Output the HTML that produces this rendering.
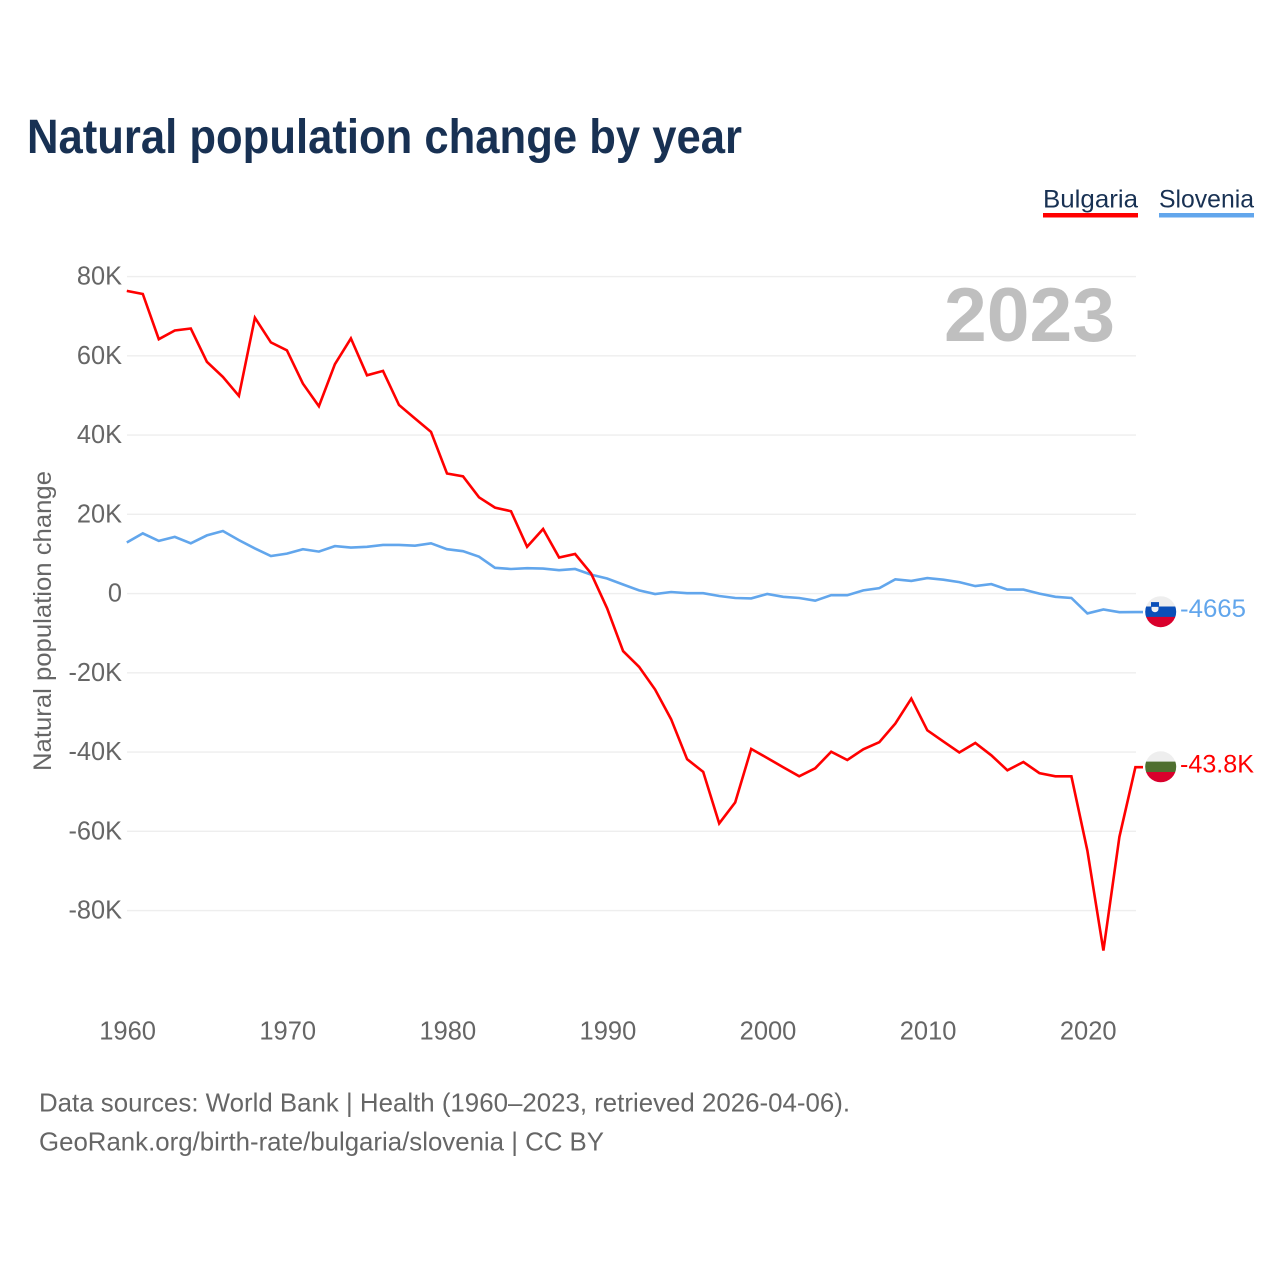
<!DOCTYPE html>
<html lang="en">
<head>
<meta charset="utf-8">
<title>Natural population change by year</title>
<style>
html,body{margin:0;padding:0;background:#fff;}
svg{display:block;font-family:"Liberation Sans",sans-serif;}
</style>
</head>
<body>
<svg id="chart" width="1280" height="1280" viewBox="0 0 1280 1280" xmlns="http://www.w3.org/2000/svg">
  <defs>
    <clipPath id="flag-clip"><circle cx="0" cy="0" r="15.5"/></clipPath>
  </defs>
  <text x="27" y="153" font-size="48" font-weight="700" fill="#183153" textLength="715" lengthAdjust="spacingAndGlyphs">Natural population change by year</text>

  <g>
    <text x="1043" y="207.5" font-size="25" fill="#183153" textLength="95" lengthAdjust="spacingAndGlyphs">Bulgaria</text>
    <rect x="1043" y="213" width="95" height="4.5" fill="#ff0000"/>
  </g>
  <g>
    <text x="1159" y="207.5" font-size="25" fill="#183153" textLength="95" lengthAdjust="spacingAndGlyphs">Slovenia</text>
    <rect x="1159" y="213" width="95" height="4.5" fill="#62a6ec"/>
  </g>

  <g id="grid"></g>
  <text x="944" y="341" font-size="76" font-weight="700" fill="#bfbfbf" textLength="171" lengthAdjust="spacingAndGlyphs">2023</text>
  <g id="y-ticks"></g>
  <g id="x-ticks"></g>
  <text transform="translate(51,621) rotate(-90)" text-anchor="middle" font-size="25" fill="#666666" textLength="300" lengthAdjust="spacingAndGlyphs">Natural population change</text>
  <g id="series"></g>
  <g id="end-markers"></g>

  <text x="39" y="1111.5" font-size="26" fill="#666666" textLength="811" lengthAdjust="spacingAndGlyphs">Data sources: World Bank | Health (1960–2023, retrieved 2026-04-06).</text>
  <text x="39" y="1150.5" font-size="26" fill="#666666" textLength="565" lengthAdjust="spacingAndGlyphs">GeoRank.org/birth-rate/bulgaria/slovenia | CC BY</text>
</svg>
<script>
var firstYear = 1960;
var yTickValues = [80, 60, 40, 20, 0, -20, -40, -60, -80];
var yTickLabels = ["80K", "60K", "40K", "20K", "0", "-20K", "-40K", "-60K", "-80K"];
var xTickYears = [1960, 1970, 1980, 1990, 2000, 2010, 2020];
var xTickLabels = ["1960", "1970", "1980", "1990", "2000", "2010", "2020"];
var bulgariaValues = [76.4, 75.6, 64.2, 66.4, 66.9, 58.5, 54.7, 49.9, 69.6, 63.4, 61.4, 53.0, 47.3, 57.9, 64.4, 55.1, 56.2, 47.6, 44.2, 40.8, 30.3, 29.6, 24.3, 21.7, 20.8, 11.8, 16.3, 9.1, 10.0, 5.1, -3.7, -14.5, -18.5, -24.2, -31.7, -41.8, -45.0, -58.0, -52.7, -39.2, -41.5, -43.8, -46.1, -44.1, -39.9, -42.0, -39.3, -37.5, -32.8, -26.5, -34.5, -37.3, -40.1, -37.7, -40.8, -44.6, -42.5, -45.3, -46.1, -46.1, -64.9, -90.1, -61.4, -43.8];
var sloveniaValues = [12.9, 15.2, 13.3, 14.3, 12.7, 14.7, 15.8, 13.5, 11.4, 9.5, 10.1, 11.2, 10.6, 12.0, 11.6, 11.8, 12.3, 12.3, 12.1, 12.7, 11.2, 10.7, 9.3, 6.5, 6.2, 6.4, 6.3, 5.9, 6.2, 4.8, 3.8, 2.3, 0.8, -0.1, 0.4, 0.1, 0.1, -0.6, -1.1, -1.2, -0.1, -0.8, -1.1, -1.8, -0.4, -0.4, 0.8, 1.4, 3.6, 3.2, 3.9, 3.5, 2.9, 1.9, 2.4, 1.0, 1.0, 0.0, -0.8, -1.1, -5.0, -4.0, -4.7, -4.665];
var bulgariaLabel = "-43.8K";
var sloveniaLabel = "-4665";

var NS = "http://www.w3.org/2000/svg";
var RED = "#ff0000";
var BLUE = "#62a6ec";
function xScale(year) { return 126.8 + (year - 1960) * 16.01; }
function yScale(v) { return 593.6 - v * 3.9625; }
function mk(tag, attrs, parent) {
  var el = document.createElementNS(NS, tag);
  for (var k in attrs) { el.setAttribute(k, attrs[k]); }
  parent.appendChild(el);
  return el;
}
function narrow(el, factor) {
  el.setAttribute("textLength", (el.getComputedTextLength() * factor).toFixed(1));
  el.setAttribute("lengthAdjust", "spacingAndGlyphs");
}

var grid = document.getElementById("grid");
var yTicks = document.getElementById("y-ticks");
yTickValues.forEach(function (v, i) {
  var line = mk("line", { x1: 127, x2: 1136, y1: yScale(v), y2: yScale(v), stroke: "#eeeeee", "stroke-width": 1.4 }, grid);
  
  
  var t = mk("text", { x: 122, y: yScale(v) + 8, "text-anchor": "end", "font-size": 26, fill: "#666666" }, yTicks);
  
  
  t.textContent = yTickLabels[i];
  narrow(t, 0.975);
});

var xTicks = document.getElementById("x-ticks");
xTickYears.forEach(function (yr, i) {
  var t = mk("text", { x: xScale(yr) + 0.8, y: 1039.5, "text-anchor": "middle", "font-size": 26, fill: "#666666" }, xTicks);
  
  
  t.textContent = xTickLabels[i];
  narrow(t, 0.98);
});

function linePoints(values) {
  var pts = values.map(function (v, i) {
    return xScale(firstYear + i).toFixed(1) + "," + yScale(v).toFixed(1);
  });
  var last = values[values.length - 1];
  pts.push("1143," + yScale(last).toFixed(1));
  return pts.join(" ");
}
var seriesG = document.getElementById("series");
var lineSlovenia = mk("polyline", { points: linePoints(sloveniaValues), fill: "none", stroke: BLUE, "stroke-width": 2.6, "stroke-linejoin": "miter" }, seriesG);


var lineBulgaria = mk("polyline", { points: linePoints(bulgariaValues), fill: "none", stroke: RED, "stroke-width": 2.6, "stroke-linejoin": "miter" }, seriesG);



function flag(values, colors) {
  var cy = yScale(values[values.length - 1]) - 0.4;
  var g = mk("g", { transform: "translate(1160.7," + cy.toFixed(1) + ")" }, document.getElementById("end-markers"));
  var c = mk("g", { "clip-path": "url(#flag-clip)" }, g);
  mk("rect", { x: -16, y: -16, width: 32, height: 11, fill: colors[0] }, c);
  mk("rect", { x: -16, y: -5.2, width: 32, height: 10.6, fill: colors[1] }, c);
  mk("rect", { x: -16, y: 5.2, width: 32, height: 11, fill: colors[2] }, c);
  return g;
}
var flagSlovenia = flag(sloveniaValues, ["#eeeeee", "#0b4fb8", "#d9002c"]);


mk("rect", { x: -9.7, y: -9.6, width: 8, height: 5, fill: "#0b4fb8" }, flagSlovenia);
mk("path", { d: "M-9.2,-4.8 H-2.2 V-3 Q-2.2,0.2 -5.7,0.5 Q-9.2,0.2 -9.2,-3 Z", fill: "#f2f2f2" }, flagSlovenia);
var flagBulgaria = flag(bulgariaValues, ["#eeeeee", "#4f6f2f", "#d9002c"]);



var endSlovenia = mk("text", { x: 1180, y: yScale(sloveniaValues[sloveniaValues.length - 1]) + 5, "font-size": 25, fill: BLUE }, document.getElementById("end-markers"));


endSlovenia.textContent = sloveniaLabel;
endSlovenia.setAttribute("textLength", "66");
endSlovenia.setAttribute("lengthAdjust", "spacingAndGlyphs");
var endBulgaria = mk("text", { x: 1180, y: yScale(bulgariaValues[bulgariaValues.length - 1]) + 5.5, "font-size": 25, fill: RED }, document.getElementById("end-markers"));


endBulgaria.textContent = bulgariaLabel;
endBulgaria.setAttribute("textLength", "74");
endBulgaria.setAttribute("lengthAdjust", "spacingAndGlyphs");
</script>
</body>
</html>
